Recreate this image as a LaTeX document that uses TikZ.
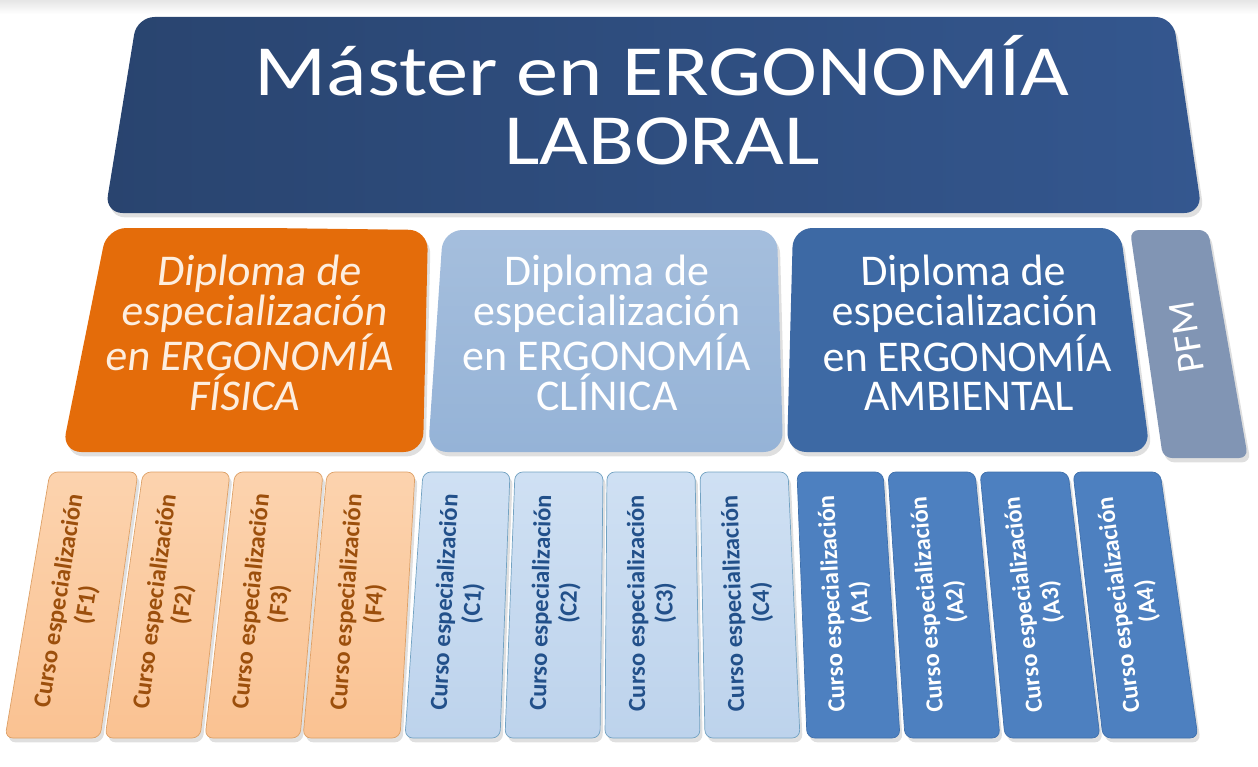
\documentclass[tikz,border=0pt]{standalone}
\usepackage{fontspec}
\setmainfont{Carlito}
\usetikzlibrary{shadows}

\definecolor{masterleft}{HTML}{29446F}
\definecolor{masterright}{HTML}{34578F}
\definecolor{fisicacolor}{HTML}{E46C0A}
\definecolor{fisicatext}{HTML}{FDEEDF}
\definecolor{clinicacolor}{HTML}{95B3D7}
\definecolor{ambientalcolor}{HTML}{3D69A4}
\definecolor{pfmcolor}{HTML}{8195B4}
\definecolor{fcoursetop}{HTML}{FCD3AE}
\definecolor{fcoursefill}{HTML}{FAC292}
\definecolor{fcourseline}{HTML}{DDA066}
\definecolor{fcoursetext}{HTML}{9C4F0C}
\definecolor{ccoursetop}{HTML}{CFE0F3}
\definecolor{ccoursefill}{HTML}{BDD3EC}
\definecolor{ccourseline}{HTML}{72A2C2}
\definecolor{ccoursetext}{HTML}{22508A}
\definecolor{acoursefill}{HTML}{4D80C0}
\definecolor{acourseline}{HTML}{3F70AC}

\tikzset{
  boxshadow/.style={drop shadow={opacity=0.25,shadow xshift=1.5pt,shadow yshift=-2.5pt}},
  diplomabox/.style={rounded corners=11pt,boxshadow},
  diplomatext/.style={text=white,align=center,inner sep=0pt,font=\fontsize{25}{22.7}\selectfont},
  fcourse/.style={top color=fcoursetop,bottom color=fcoursefill,draw=fcourseline,rounded corners=4.5pt,boxshadow},
  ccourse/.style={top color=ccoursetop,bottom color=ccoursefill,draw=ccourseline,rounded corners=4.5pt,boxshadow},
  acourse/.style={fill=acoursefill,draw=acourseline,rounded corners=4.5pt,boxshadow},
  coursetext/.style={align=center,inner sep=0pt,font=\bfseries\fontsize{14}{16}\selectfont},
}

\begin{document}
\begin{tikzpicture}[x=0.02cm,y=-0.02cm]
\useasboundingbox (0,0) rectangle (1258,767);
\shade[top color=black!10,bottom color=white] (0,0) rectangle (1258,14);
% master
\shade[left color=masterleft,right color=masterright,rounded corners=10pt,boxshadow]
  (655,17) -- (1173,17) -- (1202,213) -- (105,213) -- (137,17) -- cycle;
\node[text=white,align=center,inner sep=0pt,xscale=1.17,font=\fontsize{41}{39}\selectfont]
  (master) at (662,100) {Máster en ERGONOMÍA\\LABORAL};
% diplomas
\fill[fisicacolor,diplomabox] (267,228) -- (428,230) -- (423,452) -- (62,452) -- (107,228) -- cycle;
\node[diplomatext,text=fisicatext,xslant=0.12] (fisica) at (253,333)
  {Diploma de\\especialización\\en ERGONOMÍA\\FÍSICA};
\shade[top color=clinicacolor!85!white,bottom color=clinicacolor,diplomabox]
  (610,230) -- (777,230) -- (783,452) -- (428,452) -- (443,230) -- cycle;
\node[diplomatext] (clinica) at (607,333)
  {Diploma de\\especialización\\en ERGONOMÍA\\CLÍNICA};
\fill[ambientalcolor,diplomabox] (956,228) -- (1120,228) -- (1150,452) -- (787,452) -- (793,228) -- cycle;
\node[diplomatext,xslant=-0.04] (ambiental) at (966,333)
  {Diploma de\\especialización\\en ERGONOMÍA\\AMBIENTAL};
% PFM
\fill[pfmcolor,rounded corners=5pt,boxshadow] (1169,230) -- (1208,230) -- (1248,458) -- (1163,458) -- (1130,230) -- cycle;
\node[text=white,inner sep=0pt,rotate=99,font=\fontsize{22}{22}\selectfont] (pfm) at (1187,337) {PFM};
% courses
\foreach \name/\tl/\tr/\bl/\br in {F1/50/138/5/100,F2/143/230/105/200,F3/235/323/205/300,F4/327/415/303/400}{
  \pgfmathsetmacro{\ang}{atan2(266,(\tl+\tr-\bl-\br)/2)}
  \pgfmathsetmacro{\cx}{(\tl+\tr+\bl+\br)/4}
  \draw[fcourse] ({(\tl+\tr)/2},472) -- (\tr,472) -- (\br,738) -- (\bl,738) -- (\tl,472) -- cycle;
  \node[coursetext,text=fcoursetext,rotate=\ang] (\name) at (\cx,603) {Curso especialización\\(\name)};
}
\foreach \name/\tl/\tr/\bl/\br in {C1/423/510/405/500,C2/515/603/505/600,C3/607/695/605/700,C4/700/788/705/800}{
  \pgfmathsetmacro{\ang}{atan2(266,(\tl+\tr-\bl-\br)/2)}
  \pgfmathsetmacro{\cx}{(\tl+\tr+\bl+\br)/4}
  \draw[ccourse] ({(\tl+\tr)/2},472) -- (\tr,472) -- (\br,738) -- (\bl,738) -- (\tl,472) -- cycle;
  \node[coursetext,text=ccoursetext,rotate=\ang] (\name) at (\cx,603) {Curso especialización\\(\name)};
}
\foreach \name/\tl/\tr/\bl/\br in {A1/797/883/807/900,A2/888/975/905/1000,A3/980/1068/1005/1100,A4/1073/1160/1103/1198}{
  \pgfmathsetmacro{\ang}{atan2(266,(\tl+\tr-\bl-\br)/2)}
  \pgfmathsetmacro{\cx}{(\tl+\tr+\bl+\br)/4}
  \draw[acourse] ({(\tl+\tr)/2},472) -- (\tr,472) -- (\br,738) -- (\bl,738) -- (\tl,472) -- cycle;
  \node[coursetext,text=white,rotate=\ang] (\name) at (\cx,603) {Curso especialización\\(\name)};
}
\end{tikzpicture}
\end{document}
